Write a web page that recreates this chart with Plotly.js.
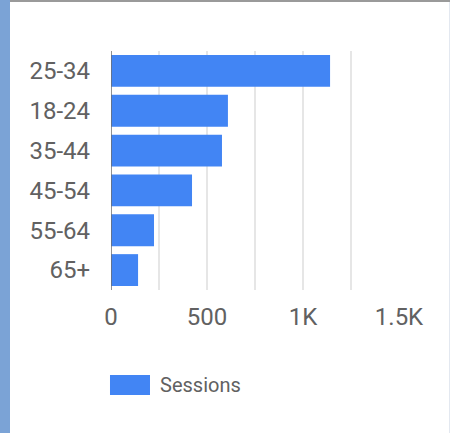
<!DOCTYPE html>
<html>
<head>
<meta charset="utf-8">
<script src="https://cdn.plot.ly/plotly-3.0.1.min.js"></script>
<style>
  html, body { margin: 0; padding: 0; background: #fff; }
  #wrap { position: relative; width: 450px; height: 433px; overflow: hidden; }
  #chart { position: absolute; left: 0; top: 0; width: 450px; height: 433px; }
  .strip { position: absolute; left: 0; top: 0; width: 10px; height: 433px; background: #7ba3d6; pointer-events: none; }
  .topline { position: absolute; left: 10px; top: 0; width: 440px; height: 2px; background: #9a9a9a; pointer-events: none; }
  .rightline { position: absolute; left: 449px; top: 2px; width: 1px; height: 431px; background: #e3e8f0; pointer-events: none; }
</style>
</head>
<body>
<div id="wrap">
  <div id="chart"></div>
  <div class="strip"></div>
  <div class="topline"></div>
  <div class="rightline"></div>
</div>
<script>
const categories = ["25-34", "18-24", "35-44", "45-54", "55-64", "65+"];
const sessions = [1141, 609, 578, 422, 224, 141];
const seriesName = "Sessions";
const xTickVals = [0, 500, 1000, 1500];
const xTickText = ["0", "500", "1K", "1.5K"];

const textColor = "#616161";
const barColor = "#4285f4";

const trace = {
  type: "bar",
  orientation: "h",
  y: categories,
  x: sessions,
  name: seriesName,
  marker: { color: barColor },
  showlegend: false,
  hoverinfo: "x+y"
};

const layout = {
  width: 450,
  height: 433,
  margin: { l: 111, r: 51, t: 51, b: 143, pad: 0 },
  paper_bgcolor: "#ffffff",
  plot_bgcolor: "#ffffff",
  font: { family: "Roboto, sans-serif", color: textColor, size: 24 },
  bargap: 0.2,
  showlegend: false,
  xaxis: {
    range: [0, 1500],
    tickvals: xTickVals,
    ticktext: xTickText,
    showgrid: true,
    gridcolor: "#e6e6e6",
    gridwidth: 1.5,
    dtick: 250,
    zeroline: false,
    showline: false,
    ticks: "",
    ticklabelstandoff: 10,
    tickfont: { size: 24, color: textColor },
    fixedrange: true
  },
  yaxis: {
    type: "category",
    categoryorder: "array",
    categoryarray: categories,
    autorange: "reversed",
    showgrid: false,
    zeroline: false,
    showline: false,
    ticks: "",
    ticklabelstandoff: 20,
    tickfont: { size: 24, color: textColor },
    fixedrange: true
  },
  shapes: [
    {
      type: "line", xref: "x", yref: "paper",
      x0: 0, x1: 0, y0: 0, y1: 1,
      line: { color: "#6e6e6e", width: 1.5 }
    },
    {
      type: "rect", xref: "paper", yref: "paper",
      x0: -0.0035, x1: 0.1354, y0: -0.4393, y1: -0.3556,
      fillcolor: barColor, line: { width: 0 }
    }
  ],
  annotations: [
    {
      xref: "paper", yref: "paper",
      x: 0.163, y: -0.3975,
      xanchor: "left", yanchor: "middle",
      text: seriesName, showarrow: false,
      font: { size: 20, color: textColor, family: "Roboto, sans-serif" }
    }
  ]
};

// minor gridlines at every 250
layout.xaxis.minor = { dtick: 250, showgrid: true, gridcolor: "#e6e6e6", gridwidth: 1.5, ticks: "" };

Plotly.newPlot("chart", [trace], layout, { displayModeBar: false, staticPlot: true });
</script>
</body>
</html>
